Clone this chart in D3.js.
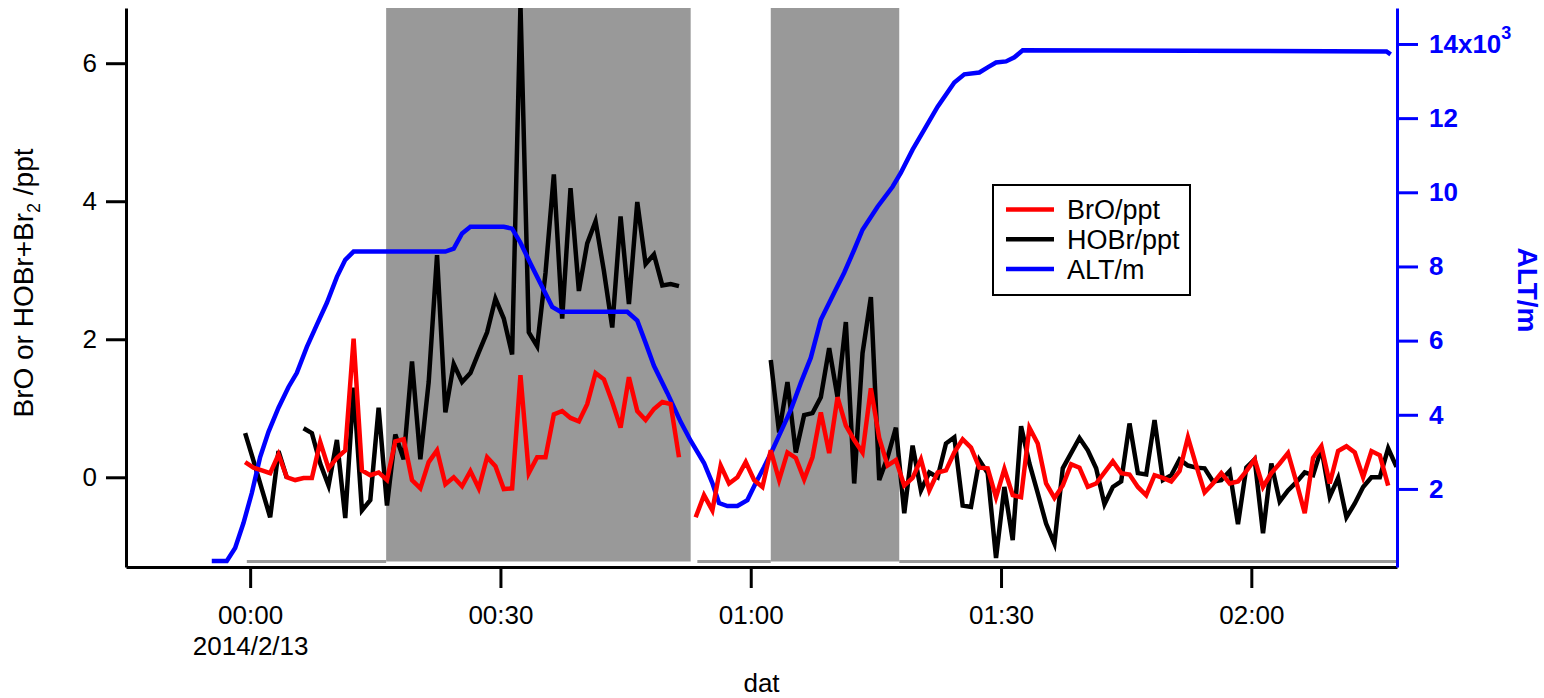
<!DOCTYPE html>
<html>
<head>
<meta charset="utf-8">
<script src="https://cdn.jsdelivr.net/npm/d3@7"></script>
<style>
  html, body { margin: 0; padding: 0; background: #fff; }
  svg { display: block; font-family: "Liberation Sans", Arial, Helvetica, sans-serif; }
</style>
</head>
<body>
<svg id="chart" width="1544" height="698"></svg>
<script>
// BrO and HOBr are one point a minute, first point 23:59:24 (minutes from 2014/2/13 00:00)
const sampleStart = -0.6
const sampleStep = 1

const broValues = [
  0.22, 0.14, 0.10, 0.06, 0.33, 0.00, -0.04, -0.01, -0.01, 0.51,
  0.13, 0.28, 0.39, 2.01, 0.10, 0.03, 0.07, -0.04, 0.52, 0.55,
  -0.04, -0.16, 0.22, 0.39, -0.10, 0.00, -0.13, 0.09, -0.16, 0.29,
  0.16, -0.17, -0.16, 1.48, 0.06, 0.29, 0.29, 0.91, 0.96, 0.86,
  0.81, 1.06, 1.51, 1.42, 1.09, 0.72, 1.45, 0.96, 0.83, 0.99,
  1.09, 1.06, 0.29, null, -0.58, -0.26, -0.48, 0.17, -0.09, 0.00,
  0.22, -0.04, -0.14, 0.39, -0.04, 0.36, 0.28, -0.03, 0.29, 0.94,
  0.35, 1.16, 0.75, 0.54, 0.36, 1.29, 0.57, 0.17, 0.25, -0.12,
  -0.01, 0.26, -0.19, 0.07, 0.10, 0.36, 0.55, 0.43, 0.14, 0.13,
  -0.29, 0.12, -0.26, -0.29, 0.72, 0.49, -0.09, -0.30, -0.12, 0.19,
  0.14, -0.14, -0.09, 0.07, 0.23, 0.06, 0.04, -0.14, -0.26, 0.03,
  -0.01, -0.06, 0.09, 0.58, 0.17, -0.22, -0.09, 0.06, -0.09, -0.06,
  0.09, 0.26, -0.14, 0.06, 0.20, 0.35, -0.07, -0.52, 0.28, 0.45,
  -0.09, 0.38, 0.45, 0.36, 0.00, 0.38, 0.32, -0.12
]

const hobrValues = [
  0.64, 0.24, -0.17, -0.58, 0.38, -0.01, null, 0.71, 0.64, 0.20,
  -0.12, 0.54, -0.59, 1.30, -0.48, -0.33, 1.01, -0.41, 0.62, 0.26,
  1.68, 0.26, 1.38, 3.22, 0.94, 1.64, 1.38, 1.51, 1.81, 2.10,
  2.59, 2.30, 1.78, 6.85, 2.10, 1.90, 2.96, 4.39, 2.30, 4.19,
  2.70, 3.39, 3.71, 2.99, 2.17, 3.78, 2.51, 3.99, 3.09, 3.23,
  2.78, 2.80, 2.77, null, null, null, null, null, null, null,
  null, null, null, 1.70, 0.65, 1.38, 0.36, 0.90, 0.93, 1.16,
  1.87, 1.16, 2.25, -0.09, 1.80, 2.61, -0.04, 0.29, 0.72, -0.52,
  0.46, -0.19, 0.07, 0.00, 0.49, 0.58, -0.41, -0.43, 0.25, 0.06,
  -1.17, -0.14, -0.91, 0.74, 0.20, -0.23, -0.67, -0.96, 0.13, 0.35,
  0.57, 0.39, 0.13, -0.39, -0.14, -0.06, 0.78, 0.06, 0.04, 0.83,
  -0.04, 0.03, 0.26, 0.17, 0.14, 0.13, -0.06, -0.04, 0.09, -0.68,
  0.14, 0.26, -0.81, 0.20, -0.35, -0.19, -0.07, 0.07, 0.03, 0.42,
  -0.28, -0.01, -0.58, -0.38, -0.14, 0.00, 0.00, 0.42, 0.15
]

// altitude, minutes from 00:00 and metres
const altMinutes = [
  -4.6, -2.8, -1.8, -0.8, 0.2, 1.2, 2.2, 3.4, 4.6, 5.6,
  6.8, 8.0, 9.2, 10.4, 11.4, 12.4, 23.4, 24.4, 25.4, 26.4,
  30.4, 31.4, 32.4, 33.6, 34.8, 36.2, 37.2, 45.2, 46.4, 47.4,
  48.4, 50.0, 51.6, 52.8, 54.4, 55.4, 56.2, 57.2, 58.4, 59.6,
  60.6, 61.6, 62.6, 63.6, 64.8, 66.0, 67.2, 68.4, 70.0, 71.2,
  72.4, 73.4, 75.2, 77.0, 78.0, 79.4, 80.8, 82.4, 84.4, 85.6,
  87.4, 88.4, 89.4, 90.6, 91.6, 92.6, 136.2, 136.7
]
const altMeters = [
  60, 60, 410, 1080, 1890, 2860, 3540, 4190, 4750, 5130,
  5830, 6430, 7020, 7720, 8180, 8400, 8400, 8480, 8890, 9070,
  9070, 9020, 8640, 8080, 7540, 6910, 6780, 6780, 6540, 5940,
  5320, 4590, 3810, 3300, 2700, 2160, 1620, 1540, 1540, 1700,
  2160, 2590, 3050, 3540, 4130, 4860, 5540, 6560, 7290, 7830,
  8450, 8990, 9610, 10150, 10530, 11150, 11690, 12310, 12960, 13180,
  13230, 13370, 13500, 13530, 13640, 13830, 13800, 13720
]

// flag wave (grey): on = shaded block, off = line at the bottom
const flagStart = [-0.4, 16.3, 53.6, 62.4, 77.8]
const flagEnd = [16.3, 52.8, 62.4, 77.8, 137.4]
const flagOn = [0, 1, 0, 1, 0]

const leftTicks = [0, 2, 4, 6]
const rightTicks = [2000, 4000, 6000, 8000, 10000, 12000, 14000]
const timeTicks = [0, 30, 60, 90, 120]
const dateLabel = '2014/2/13'

const legendLabels = ['BrO/ppt', 'HOBr/ppt', 'ALT/m']
const legendColors = ['#ff0000', '#000000', '#0000ff']

//constants
const plotLeft = 126
const plotRight = 1397
const plotTop = 8
const plotBottom = 567
const lineW = 4.5
const base = Date.UTC(2014, 1, 13, 0, 0, 0)
const toDate = m => new Date(base + m * 60000)
const svg = d3.select('#chart')

//scales
const x = d3.scaleUtc()
  .domain([toDate(-14.88), toDate(137.46)])
  .range([plotLeft, plotRight])
const yLeft = d3.scaleLinear().domain([-1.3, 6.8]).range([plotBottom, plotTop])
const yRight = d3.scaleLinear().domain([-105, 14970]).range([plotBottom, plotTop])
const yFlag = d3.scaleLinear().domain([0, 1]).range([561.5, plotTop])

svg.append('clipPath').attr('id', 'plot')
  .append('rect')
  .attr('x', plotLeft).attr('y', plotTop)
  .attr('width', plotRight - plotLeft).attr('height', plotBottom - plotTop)

//flag blocks and base lines
const flags = flagStart.map((s, i) => ({ s, e: flagEnd[i], on: flagOn[i] }))
svg.append('g').selectAll('rect')
  .data(flags.filter(d => d.on))
  .enter().append('rect')
  .attr('x', d => x(toDate(d.s)))
  .attr('width', d => x(toDate(d.e)) - x(toDate(d.s)))
  .attr('y', yFlag(1))
  .attr('height', yFlag(0) - yFlag(1))
  .attr('fill', '#999999')
svg.append('g').selectAll('line')
  .data(flags.filter(d => !d.on))
  .enter().append('line')
  .attr('x1', d => x(toDate(d.s)))
  .attr('x2', d => x(toDate(d.e)))
  .attr('y1', yFlag(0)).attr('y2', yFlag(0))
  .attr('stroke', '#999999')
  .attr('stroke-width', 3)

//lines
const sampled = vals => vals.map((v, i) => ({ t: sampleStart + i * sampleStep, v }))
const lineLeft = d3.line()
  .defined(d => d.v != null)
  .x(d => x(toDate(d.t)))
  .y(d => yLeft(d.v))
const lineRight = d3.line()
  .x(d => x(toDate(d.t)))
  .y(d => yRight(d.v))

const plot = svg.append('g').attr('clip-path', 'url(#plot)')
plot.append('path')
  .datum(sampled(hobrValues))
  .attr('d', lineLeft)
  .attr('fill', 'none').attr('stroke', '#000000').attr('stroke-width', lineW)
plot.append('path')
  .datum(altMinutes.map((t, i) => ({ t, v: altMeters[i] })))
  .attr('d', lineRight)
  .attr('fill', 'none').attr('stroke', '#0000ff').attr('stroke-width', lineW)
plot.append('path')
  .datum(sampled(broValues))
  .attr('d', lineLeft)
  .attr('fill', 'none').attr('stroke', '#ff0000').attr('stroke-width', lineW)

//axes
const styleAxis = (g, color) => {
  g.select('.domain').attr('stroke', color).attr('stroke-width', 3)
  g.selectAll('.tick line').attr('stroke', color).attr('stroke-width', 3)
  g.selectAll('.tick text').attr('fill', color).style('font-size', '26px')
}

const xAxis = d3.axisBottom(x)
  .tickValues(timeTicks.map(toDate))
  .tickFormat(d3.utcFormat('%H:%M'))
  .tickSize(21).tickSizeOuter(0).tickPadding(18)
svg.append('g')
  .attr('transform', 'translate(0,' + plotBottom + ')')
  .call(xAxis)
  .call(g => styleAxis(g, '#000'))
  .call(g => g.select('.tick text')
    .append('tspan').attr('x', 0).attr('dy', '1.16em').text(dateLabel))

const yAxisLeft = d3.axisLeft(yLeft)
  .tickValues(leftTicks)
  .tickSize(20).tickSizeOuter(0).tickPadding(9)
svg.append('g')
  .attr('transform', 'translate(' + plotLeft + ',0)')
  .call(yAxisLeft)
  .call(g => styleAxis(g, '#000'))

const yAxisRight = d3.axisRight(yRight)
  .tickValues(rightTicks)
  .tickFormat(d => d / 1000)
  .tickSize(21).tickSizeOuter(0).tickPadding(11)
svg.append('g')
  .attr('transform', 'translate(' + plotRight + ',0)')
  .call(yAxisRight)
  .call(g => styleAxis(g, '#0000ff'))
  .call(g => g.selectAll('.tick text').style('font-weight', 'bold'))
  .call(g => g.selectAll('.tick text').filter(d => d === 14000)
    .text('14x10')
    .append('tspan').attr('dy', '-14').style('font-size', '18px').text('3'))

//labels
svg.append('text')
  .attr('x', (plotLeft + plotRight) / 2)
  .attr('y', 692)
  .attr('text-anchor', 'middle')
  .style('font-size', '26px')
  .text('dat')

const leftTitle = svg.append('text')
  .attr('transform', 'translate(33,283) rotate(-90)')
  .attr('text-anchor', 'middle')
  .style('font-size', '28px')
leftTitle.append('tspan').text('BrO or HOBr+Br')
leftTitle.append('tspan').attr('dy', 7).style('font-size', '18px').text('2')
leftTitle.append('tspan').attr('dy', -7).text(' /ppt')

svg.append('text')
  .attr('transform', 'translate(1518,290) rotate(90)')
  .attr('text-anchor', 'middle')
  .attr('fill', '#0000ff')
  .style('font-size', '28px')
  .style('font-weight', 'bold')
  .text('ALT/m')

//legend
const legend = svg.append('g')
legend.append('rect')
  .attr('x', 993).attr('y', 185)
  .attr('width', 197).attr('height', 110)
  .attr('fill', '#fff').attr('stroke', '#000').attr('stroke-width', 2)
const rows = legend.selectAll('g.row')
  .data(legendLabels)
  .enter().append('g')
  .attr('class', 'row')
  .attr('transform', (_, i) => 'translate(0,' + (209.5 + i * 29.8) + ')')
rows.append('line')
  .attr('x1', 1006).attr('x2', 1054)
  .attr('stroke', (_, i) => legendColors[i])
  .attr('stroke-width', lineW)
rows.append('text')
  .attr('x', 1067).attr('y', 9.5)
  .style('font-size', '27px')
  .text(d => d)
</script>
</body>
</html>
